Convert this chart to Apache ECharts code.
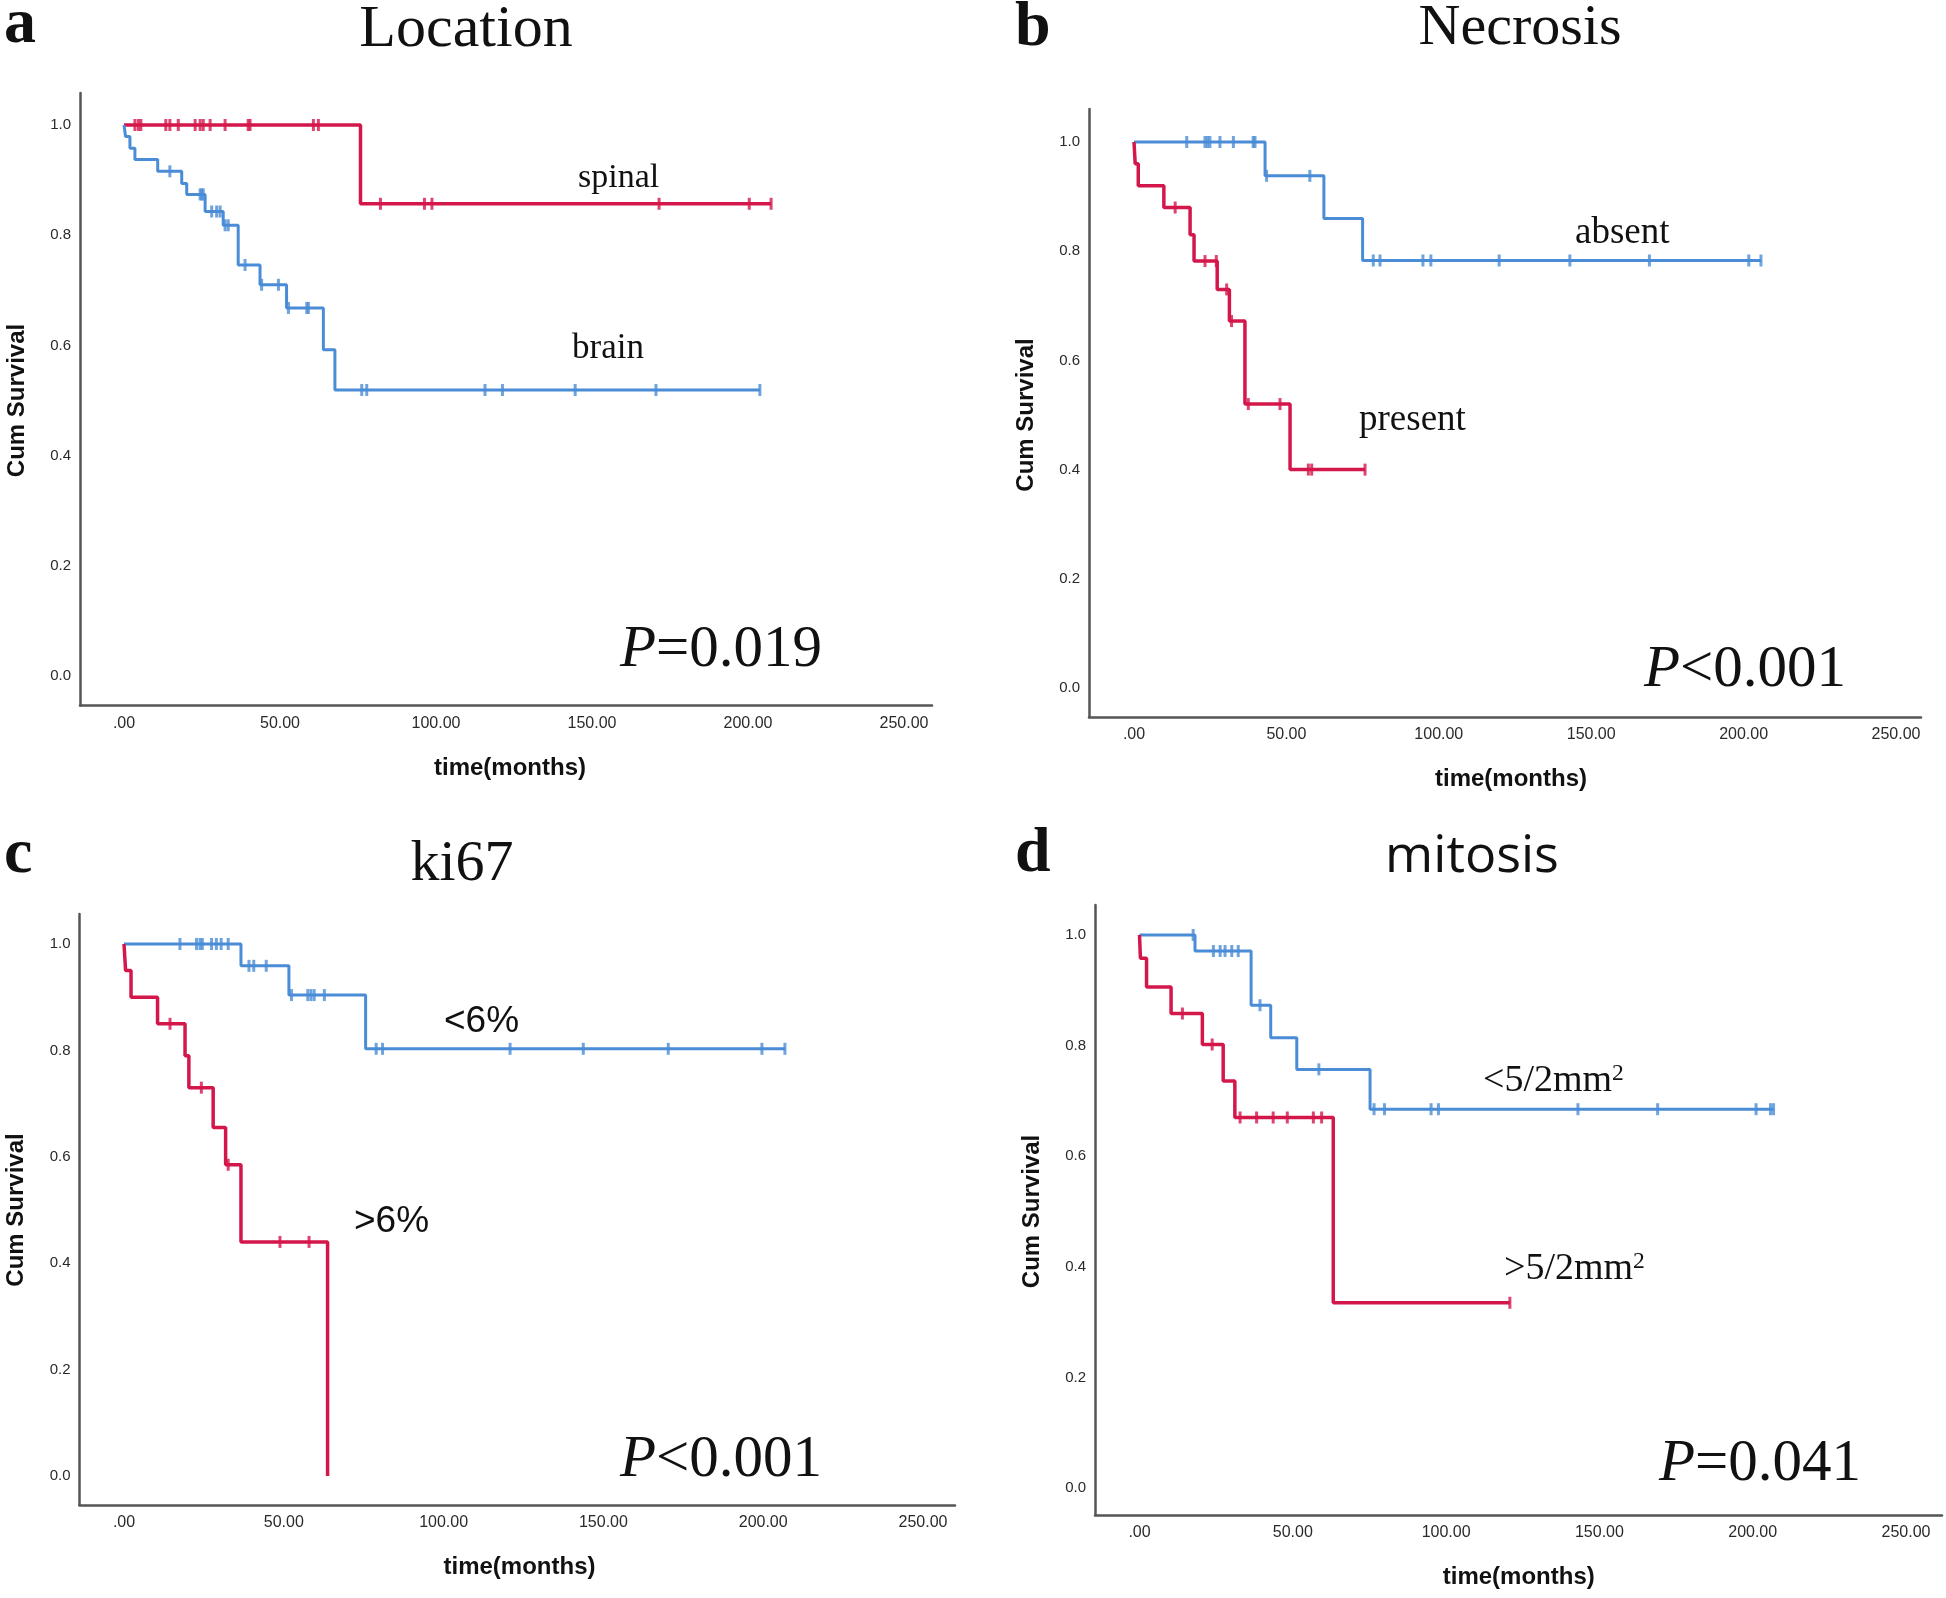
<!DOCTYPE html>
<html>
<head>
<meta charset="utf-8">
<script src="https://cdn.jsdelivr.net/npm/echarts@6/dist/echarts.min.js"></script>
<style>
html,body{margin:0;padding:0;background:#fff;}
#chart{width:1946px;height:1598px;}
</style>
</head>
<body>
<div id="chart"></div>
<script>
// ---------- tick labels ----------
const xTickValues = [0, 50, 100, 150, 200, 250];
const xTickLabels = ['.00', '50.00', '100.00', '150.00', '200.00', '250.00'];
const yTickValues = [0, 0.2, 0.4, 0.6, 0.8, 1.0];
const yTickLabels = ['0.0', '0.2', '0.4', '0.6', '0.8', '1.0'];

// ---------- panel a: Location ----------
const spinalTimes = [0, 75.8, 207.4];
const spinalSurv = [1, 0.857, 0.857];
const spinalCensor = [3.5, 4.6, 5.4, 13.4, 14.7, 17.4, 22.8, 24.4, 25.4, 27.6, 32.4, 39.8, 40.4, 60.7, 62.3, 82.2, 96.3, 98.7, 171.5, 200.4, 207.4];
const brainTimes = [0, 0.5, 1.9, 3.5, 10.8, 18.5, 20.1, 26, 31.8, 36.6, 43.6, 52.1, 63.9, 67.6, 203.8];
const brainSurv = [1, 0.979, 0.958, 0.9375, 0.916, 0.894, 0.874, 0.843, 0.818, 0.746, 0.71, 0.668, 0.592, 0.519, 0.519];
const brainCensor = [14.7, 24.4, 24.9, 25.4, 28.1, 29.7, 30.8, 32.4, 33.4, 38.8, 44.1, 49.5, 52.7, 58.6, 59.1, 76.2, 77.8, 115.7, 121.3, 144.6, 170.5, 203.8];

// ---------- panel b: Necrosis ----------
const absentTimes = [0, 43, 62.3, 75, 205.7];
const absentSurv = [1, 0.938, 0.86, 0.783, 0.783];
const absentCensor = [17.3, 23.3, 24.1, 24.9, 28.2, 32.6, 39.1, 39.7, 43.5, 57.7, 78.5, 80.7, 94.8, 97.4, 119.8, 143, 169.1, 201.7, 205.7];
const presentTimes = [0, 0.4, 1.4, 9.8, 18.4, 19.7, 27.3, 31.3, 36.4, 51.2, 75.8];
const presentSurv = [1, 0.96, 0.92, 0.88, 0.83, 0.782, 0.73, 0.672, 0.52, 0.40, 0.40];
const presentCensor = [13.5, 23.3, 27, 30.4, 32, 37.5, 47.9, 57.2, 58.3, 75.8];

// ---------- panel c: ki67 ----------
const kiLowTimes = [0, 36.6, 51.6, 75.6, 206.8];
const kiLowSurv = [1, 0.959, 0.904, 0.803, 0.803];
const kiLowCensor = [17.5, 22.7, 23.8, 24.5, 27.4, 28.9, 30.4, 32.6, 39.1, 40.6, 44.5, 52.4, 57.5, 58.5, 59.5, 62.7, 78.9, 80.9, 120.8, 143.7, 170.3, 199.6, 206.8];
const kiHighTimes = [0, 0.5, 2.2, 10.5, 19.1, 20.3, 27.9, 31.8, 36.6, 63.7];
const kiHighSurv = [1, 0.95, 0.90, 0.85, 0.79, 0.73, 0.655, 0.585, 0.44, 0];
const kiHighCensor = [14.4, 24.2, 32.6, 48.8, 57.9];

// ---------- panel d: mitosis ----------
const mitLowTimes = [0, 18.1, 36.4, 42.8, 51.3, 75.2, 206.8];
const mitLowSurv = [1, 0.971, 0.873, 0.814, 0.757, 0.685, 0.685];
const mitLowCensor = [17.5, 24.1, 26.3, 27.9, 30.1, 32.2, 39.3, 58.5, 76.5, 79.9, 95.1, 97.5, 143, 169, 201.1, 205.8, 206.8];
const mitHighTimes = [0, 0.3, 2.3, 10.3, 20.5, 27.3, 31.1, 63.2, 120.8];
const mitHighSurv = [1, 0.958, 0.906, 0.858, 0.802, 0.736, 0.670, 0.335, 0.335];
const mitHighCensor = [14, 23.7, 32.8, 38.2, 43.6, 48.2, 56.7, 59.4, 120.8];

// ---------- layout (pixels) ----------
const RED = '#d4174b';
const BLUE = '#4a8cd6';
const AXIS = '#555555';
const geo = [
  {left: 80,   right: 932,  top: 93,  bottom: 705.5, x0: 124,    x250: 904,  y1: 125, y0: 676},
  {left: 1089, right: 1921, top: 109, bottom: 717,   x0: 1134,   x250: 1896, y1: 142, y0: 688},
  {left: 79.5, right: 955,  top: 914, bottom: 1505,  x0: 124,    x250: 923,  y1: 944, y0: 1476},
  {left: 1095, right: 1942, top: 905, bottom: 1515,  x0: 1139.5, x250: 1906, y1: 935, y0: 1488}
];
const curves = [
  [{t: spinalTimes, s: spinalSurv, c: spinalCensor, col: RED, w: 3.5},
   {t: brainTimes, s: brainSurv, c: brainCensor, col: BLUE, w: 3}],
  [{t: absentTimes, s: absentSurv, c: absentCensor, col: BLUE, w: 3},
   {t: presentTimes, s: presentSurv, c: presentCensor, col: RED, w: 3.5}],
  [{t: kiLowTimes, s: kiLowSurv, c: kiLowCensor, col: BLUE, w: 3},
   {t: kiHighTimes, s: kiHighSurv, c: kiHighCensor, col: RED, w: 3.5}],
  [{t: mitLowTimes, s: mitLowSurv, c: mitLowCensor, col: BLUE, w: 3},
   {t: mitHighTimes, s: mitHighSurv, c: mitHighCensor, col: RED, w: 3.5}]
];

function survAt(times, surv, t) {
  let v = surv[0];
  for (let i = 0; i < times.length; i++) { if (times[i] <= t + 1e-9) v = surv[i]; }
  return v;
}

const grid = [], xAxis = [], yAxis = [], series = [];
geo.forEach((g, i) => {
  const pxPerT = (g.x250 - g.x0) / 250;
  const pxPerS = g.y0 - g.y1;
  grid.push({left: g.left, top: g.top, width: g.right - g.left, height: g.bottom - g.top, containLabel: false});
  xAxis.push({
    type: 'value', gridIndex: i,
    min: (g.left - g.x0) / pxPerT, max: (g.right - g.x0) / pxPerT,
    axisLine: {onZero: false, lineStyle: {color: AXIS, width: 2.5}},
    axisTick: {show: false}, splitLine: {show: false},
    axisLabel: {
      customValues: xTickValues, margin: 10,
      formatter: v => xTickLabels[xTickValues.indexOf(Math.round(v))] || '',
      fontFamily: '"Liberation Sans", Arial, sans-serif', fontSize: 16, color: '#2a2a2a'
    }
  });
  yAxis.push({
    type: 'value', gridIndex: i,
    min: -(g.bottom - g.y0) / pxPerS, max: (g.y0 - g.top) / pxPerS,
    axisLine: {show: true, onZero: false, lineStyle: {color: AXIS, width: 2.5}},
    axisTick: {show: false}, splitLine: {show: false},
    axisLabel: {
      customValues: yTickValues, margin: 9,
      formatter: v => yTickLabels[yTickValues.findIndex(u => Math.abs(u - v) < 1e-6)] || '',
      fontFamily: '"Liberation Sans", Arial, sans-serif', fontSize: 15, color: '#2a2a2a'
    }
  });
  curves[i].forEach(cv => {
    series.push({
      type: 'line', xAxisIndex: i, yAxisIndex: i, step: 'end',
      showSymbol: false, symbol: 'none', silent: true, animation: false,
      lineStyle: {color: cv.col, width: cv.w},
      data: cv.t.map((t, k) => [t, cv.s[k]])
    });
    series.push({
      type: 'scatter', xAxisIndex: i, yAxisIndex: i, silent: true, animation: false,
      symbol: 'rect', symbolSize: [3, 12], z: 3,
      itemStyle: {color: cv.col},
      data: cv.c.map(t => [t, survAt(cv.t, cv.s, t)])
    });
  });
});

// ---------- text ----------
const SERIF = '"Liberation Serif", "Times New Roman", serif';
const SANS = '"Liberation Sans", Arial, sans-serif';
function txt(text, x, baseline, size, family, opts) {
  opts = opts || {};
  const shift = (family === SERIF ? 0.338 : 0.347) * size;
  return {
    type: 'text', x: x, y: baseline - shift, silent: true,
    style: Object.assign({
      text: text, fill: '#111', fontSize: size, fontFamily: family,
      fontWeight: opts.weight || 'normal', fontStyle: opts.style || 'normal',
      textAlign: opts.align || 'left', textVerticalAlign: 'middle'
    }, opts.extra || {})
  };
}
function rot(text, cx, cy) {
  return {
    type: 'text', x: cx, y: cy, rotation: Math.PI / 2, silent: true,
    style: {text: text, fill: '#111', fontSize: 24, fontWeight: 'bold', fontFamily: SANS,
            textAlign: 'center', textVerticalAlign: 'middle'}
  };
}
function pText(sym, val, x, baseline) {
  return {
    type: 'text', x: x, y: baseline - 0.338 * 59, silent: true,
    style: {
      text: '{i|' + sym + '}{n|' + val + '}', textVerticalAlign: 'middle', textAlign: 'left',
      rich: {
        i: {fontFamily: SERIF, fontStyle: 'italic', fontSize: 59, fill: '#111'},
        n: {fontFamily: SERIF, fontSize: 59, fill: '#111'}
      }
    }
  };
}
function supText(base, sup, x, baseline, size) {
  return {
    type: 'text', x: x, y: baseline - 0.338 * size, silent: true,
    style: {
      text: '{b|' + base + '}{s|' + sup + '}', textVerticalAlign: 'middle', textAlign: 'left',
      rich: {
        b: {fontFamily: SERIF, fontSize: size, fill: '#111', lineHeight: size},
        s: {fontFamily: SERIF, fontSize: size * 0.62, fill: '#111', verticalAlign: 'top', lineHeight: size * 0.62}
      }
    }
  };
}

const graphic = [
  txt('a', 4, 47, 64, SERIF, {weight: 'bold'}),
  txt('b', 1015, 50, 64, SERIF, {weight: 'bold'}),
  txt('c', 4, 877, 64, SERIF, {weight: 'bold'}),
  txt('d', 1015, 876, 64, SERIF, {weight: 'bold'}),
  txt('Location', 466, 51, 60, SERIF, {align: 'center'}),
  txt('Necrosis', 1520, 48, 58, SERIF, {align: 'center'}),
  txt('ki67', 462, 884, 58, SERIF, {align: 'center'}),
  txt('mitosis', 1472, 875, 52, '"Open Sans", ' + SANS, {align: 'center'}),
  txt('spinal', 578, 190, 34, SERIF),
  txt('brain', 572, 361, 35, SERIF),
  txt('absent', 1575, 246, 37, SERIF),
  txt('present', 1359, 433, 37, SERIF),
  txt('<6%', 444, 1035, 37, SANS),
  txt('>6%', 354, 1235, 37, SANS),
  supText('<5/2mm', '2', 1483, 1094, 38),
  supText('>5/2mm', '2', 1504, 1282, 38),
  pText('P', '=0.019', 620, 670),
  pText('P', '<0.001', 1644, 690),
  pText('P', '<0.001', 620, 1480),
  pText('P', '=0.041', 1659, 1484)
];
// axis names
geo.forEach(g => {
  const midX = g.x0 + (g.x250 - g.x0) / 2 - 4;
  graphic.push(txt('time(months)', midX, g.bottom + 71, 24, SANS, {align: 'center', weight: 'bold'}));
  graphic.push(rot('Cum Survival', g.left - 63, (g.y0 + g.y1) / 2));
});

const chart = echarts.init(document.getElementById('chart'), null, {renderer: 'canvas'});
chart.setOption({
  backgroundColor: '#ffffff',
  animation: false,
  grid: grid, xAxis: xAxis, yAxis: yAxis, series: series,
  graphic: graphic
});
</script>
</body>
</html>
